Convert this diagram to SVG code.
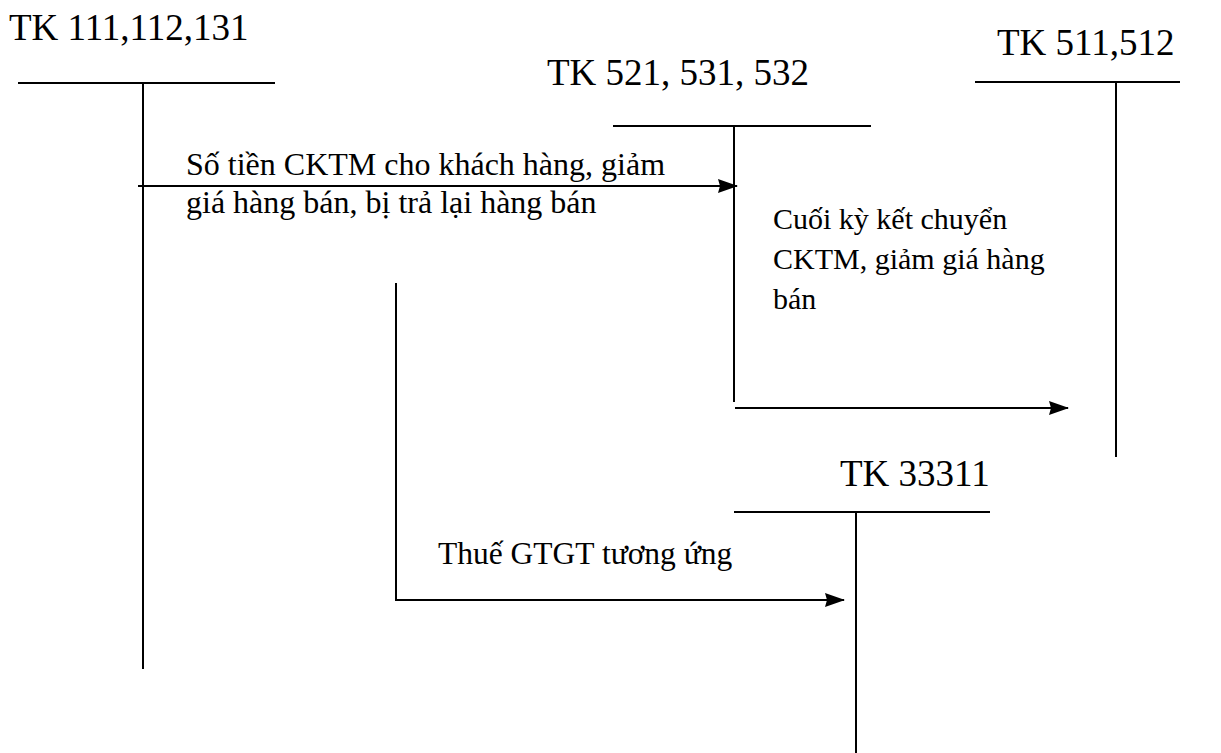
<svg xmlns="http://www.w3.org/2000/svg" width="1221" height="753" viewBox="0 0 1221 753">
<style>
text{font-family:'Liberation Serif','Times New Roman','DejaVu Serif',serif;fill:#000}
.h{font-size:37px}
.l{font-size:32px}
.m{font-size:31.5px}
.s{font-size:30px}
.ln{stroke:#000;stroke-width:2;fill:none}
</style>
<defs>
<marker id="ah" viewBox="0 0 20 14" refX="19" refY="7" markerWidth="20" markerHeight="14" markerUnits="userSpaceOnUse" orient="auto">
<path d="M0,0 L20,7 L0,14 L2,7 z" fill="#000"/>
</marker>
</defs>
<rect width="1221" height="753" fill="#fff"/>
<g id="tk111">
<text class="h" x="9" y="40">TK 111,112,131</text>
<line class="ln" x1="18" y1="83" x2="275" y2="83"/>
<line class="ln" x1="143" y1="83" x2="143" y2="669"/>
</g>
<g id="tk521">
<text class="h" x="547" y="85">TK 521, 531, 532</text>
<line class="ln" x1="613" y1="126" x2="871" y2="126"/>
<line class="ln" x1="734" y1="126" x2="734" y2="402"/>
</g>
<g id="tk511">
<text class="h" x="997" y="55">TK 511,512</text>
<line class="ln" x1="975" y1="82" x2="1180" y2="82"/>
<line class="ln" x1="1116" y1="82" x2="1116" y2="457"/>
</g>
<g id="tk33311">
<text class="h" x="840" y="486">TK 33311</text>
<line class="ln" x1="734" y1="512" x2="990" y2="512"/>
<line class="ln" x1="856" y1="512" x2="856" y2="800"/>
</g>
<g id="connectors">
<line class="ln" x1="138" y1="186" x2="737" y2="186" marker-end="url(#ah)"/>
<line class="ln" x1="735" y1="408" x2="1068" y2="408" marker-end="url(#ah)"/>
<polyline class="ln" points="396,283 396,600 844,600" marker-end="url(#ah)"/>
</g>
<g id="labels">
<text class="l" x="186" y="175">Số tiền CKTM cho khách hàng, giảm</text>
<text class="l" x="186" y="213">giá hàng bán, bị trả lại hàng bán</text>
<text class="s" x="773" y="229">Cuối kỳ kết chuyển</text>
<text class="s" x="773" y="269">CKTM, giảm giá hàng</text>
<text class="s" x="773" y="309">bán</text>
<text class="m" x="438" y="564">Thuế GTGT tương ứng</text>
</g>
</svg>
